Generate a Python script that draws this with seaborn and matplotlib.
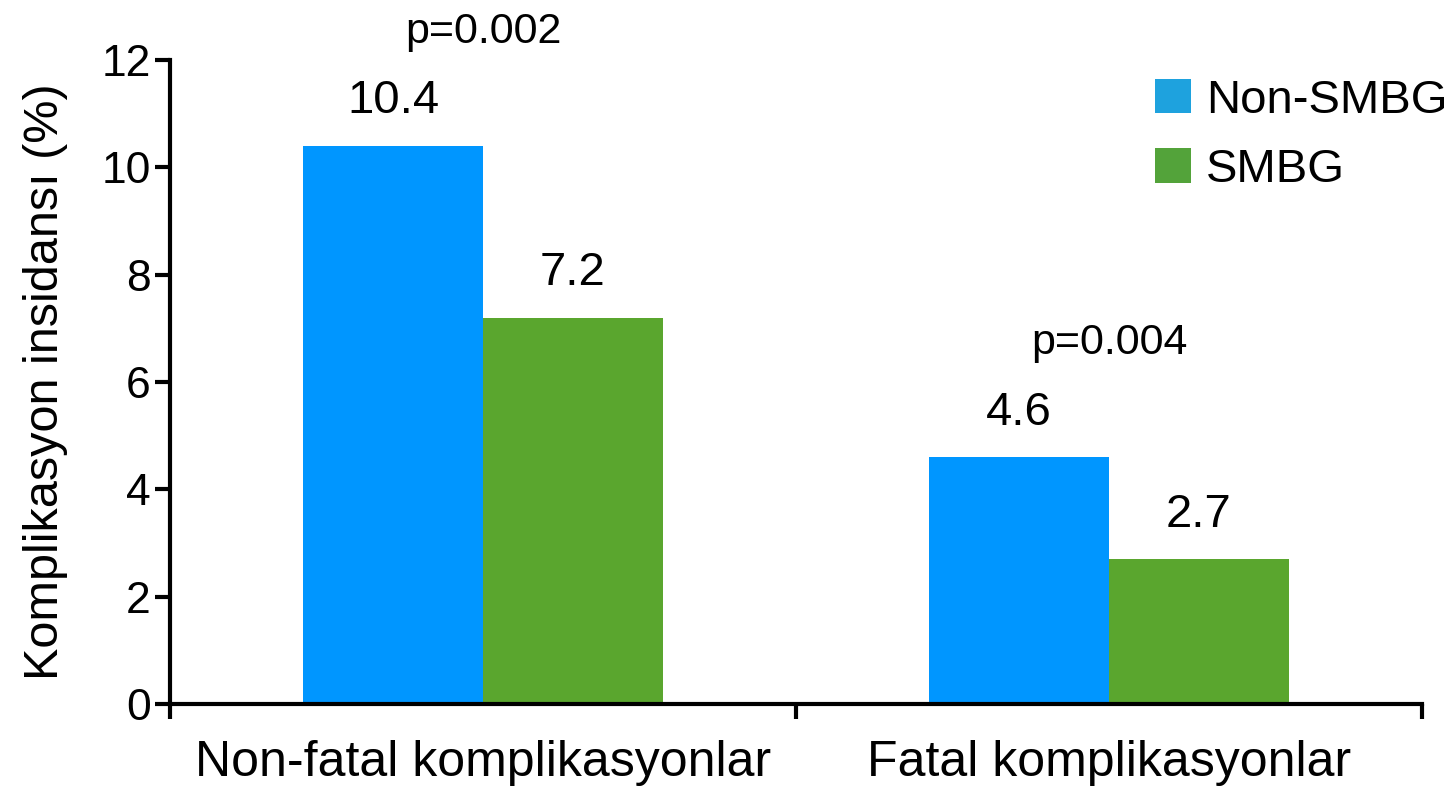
import matplotlib
matplotlib.use("Agg")
import matplotlib.pyplot as plt
from matplotlib.patches import Patch
import seaborn as sns
import pandas as pd

categories = ["Non-fatal komplikasyonlar", "Fatal komplikasyonlar"]
groups = ["Non-SMBG", "SMBG"]
non_smbg = [10.4, 4.6]
smbg = [7.2, 2.7]
p_values = ["p=0.002", "p=0.004"]
y_ticks = [0, 2, 4, 6, 8, 10, 12]

bar_colors = {"Non-SMBG": "#0096FF", "SMBG": "#5AA62E"}
legend_colors = {"Non-SMBG": "#1EA2DE", "SMBG": "#53A33A"}

df = pd.DataFrame({
    "cat": categories * 2,
    "grp": [groups[0]] * 2 + [groups[1]] * 2,
    "val": non_smbg + smbg,
})

sns.set_theme(style="white")
plt.rcParams["font.family"] = ["Liberation Sans", "DejaVu Sans"]
plt.rcParams["text.color"] = "black"
plt.rcParams["axes.labelcolor"] = "black"
plt.rcParams["xtick.color"] = "black"
plt.rcParams["ytick.color"] = "black"

fig = plt.figure(figsize=(14.53, 7.87), dpi=100)
ax = fig.add_axes([170 / 1453, 1 - 704 / 787, (1422 - 170) / 1453, (704 - 60) / 787])

sns.barplot(data=df, x="cat", y="val", hue="grp", order=categories, hue_order=groups,
            palette=bar_colors, width=0.575, saturation=1, ax=ax, legend=False,
            edgecolor="none", linewidth=0)

ax.set_xlim(-0.5, 1.5)
ax.set_ylim(0, 12)
ax.set_yticks(y_ticks)
ax.set_yticklabels([str(t) for t in y_ticks], fontsize=32, color="black")
ax.set_xticks([-0.5, 0.5, 1.5])
ax.set_xticklabels([])
ax.tick_params(axis="y", direction="out", length=11, width=3, pad=3, left=True, colors="black")
ax.tick_params(axis="x", direction="out", length=11, width=3, bottom=True, colors="black")
for i, c in enumerate(categories):
    ax.text(i, -1.1, c, ha="center", va="center", fontsize=36, color="black")

for s in ["top", "right"]:
    ax.spines[s].set_visible(False)
for s in ["left", "bottom"]:
    ax.spines[s].set_linewidth(3)
    ax.spines[s].set_color("black")

ax.set_xlabel("")
ax.set_ylabel("Komplikasyon insidansı (%)", fontsize=35, labelpad=24, color="black")

# value labels
for cont in ax.containers:
    for bar in cont:
        h = bar.get_height()
        ax.text(bar.get_x() + bar.get_width() / 2, h + 0.83, f"{h:.1f}",
                ha="center", va="center", fontsize=34, color="black")

for i, p in enumerate(p_values):
    top = max(non_smbg[i], smbg[i])
    ax.text(i, top + 2.12, p, ha="center", va="center", fontsize=31, color="black")

handles = [Patch(facecolor=legend_colors[g], edgecolor="none") for g in groups]
ax.legend(handles, groups, loc="upper right", bbox_to_anchor=(1.043, 1.015), frameon=False,
          fontsize=34, handlelength=0.75, handleheight=0.75, handletextpad=0.32,
          labelspacing=0.53, borderaxespad=0.2, labelcolor="black")

for t in ax.texts + [ax.yaxis.label]:
    t.set_clip_on(False)

fig.savefig("out.png", dpi=100)
